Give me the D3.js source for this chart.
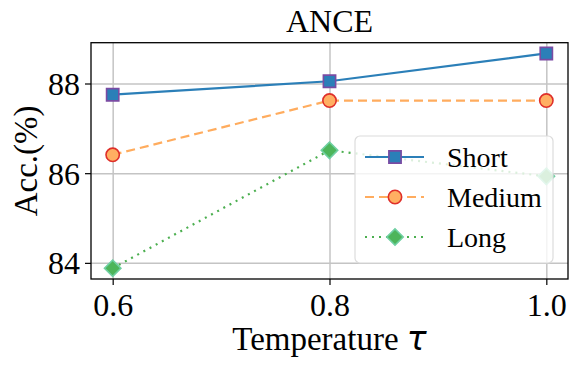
<!DOCTYPE html>
<html>
<head>
<meta charset="utf-8">
<script src="https://cdn.jsdelivr.net/npm/d3@7"></script>
<style>
	body { margin: 0; background: #fff; }
	svg { display: block; }
</style>
</head>
<body>
<main></main>
<script>
const temps = [0.6, 0.8, 1.0]
const seriesNames = ['Short', 'Medium', 'Long']
const shortAcc = [87.75, 88.05, 88.67]
const mediumAcc = [86.41, 87.62, 87.62]
const longAcc = [83.88, 86.51, 85.93]
const yTicks = [84, 86, 88]

const width = 579
const height = 368
const plotLeft = 91, plotRight = 568, plotTop = 42.7, plotBottom = 279
const serif = "'Liberation Serif', 'Times New Roman', serif"

const styles = {
	Short: { line: '#2b7fb8', fill: '#2b7fb8', edge: '#7a4ba3', dash: null, shape: d3.symbolSquare, size: 150, rot: 0 },
	Medium: { line: '#ffac5e', fill: '#ffaf62', edge: '#df2f2a', dash: '9,5', shape: d3.symbolCircle, size: 140, rot: 0 },
	Long: { line: '#4caf50', fill: '#4db55a', edge: '#6fcfa2', dash: '2,5', shape: d3.symbolSquare, size: 135, rot: 45 },
}
const series = [
	{ name: seriesNames[0], values: shortAcc },
	{ name: seriesNames[1], values: mediumAcc },
	{ name: seriesNames[2], values: longAcc },
]

const svg = d3.select('main')
	.append('svg')
	.attr('width', width)
	.attr('height', height)

const x = d3.scaleLinear().domain([0.58, 1.02]).range([plotLeft, plotRight])
const y = d3.scaleLinear().domain([83.64, 88.91]).range([plotBottom, plotTop])

// grid
svg.append('g')
	.attr('transform', `translate(0,${plotBottom})`)
	.call(d3.axisBottom(x).tickValues(temps).tickSize(-(plotBottom - plotTop)).tickFormat(''))
	.call(g => g.select('.domain').remove())
	.call(g => g.selectAll('line').attr('stroke', '#c4c4c4').attr('stroke-width', 1.5))

svg.append('g')
	.attr('transform', `translate(${plotLeft},0)`)
	.call(d3.axisLeft(y).tickValues(yTicks).tickSize(-(plotRight - plotLeft)).tickFormat(''))
	.call(g => g.select('.domain').remove())
	.call(g => g.selectAll('line').attr('stroke', '#c4c4c4').attr('stroke-width', 1.5))

// lines + markers
const line = d3.line().x((d, i) => x(temps[i])).y(d => y(d))
series.forEach(s => {
	const st = styles[s.name]
	svg.append('path')
		.datum(s.values)
		.attr('d', line)
		.attr('fill', 'none')
		.attr('stroke', st.line)
		.attr('stroke-width', 2.2)
		.attr('stroke-dasharray', st.dash)
	svg.append('g')
		.selectAll('path')
		.data(s.values)
		.enter()
		.append('path')
		.attr('d', d3.symbol().type(st.shape).size(st.size))
		.attr('transform', (d, i) => `translate(${x(temps[i])},${y(d)}) rotate(${st.rot})`)
		.attr('fill', st.fill)
		.attr('stroke', st.edge)
		.attr('stroke-width', 1.6)
})

// axes
const xAxis = svg.append('g')
	.attr('transform', `translate(0,${plotBottom})`)
	.call(d3.axisBottom(x).tickValues(temps).tickFormat(d3.format('.1f')).tickSize(6).tickPadding(6).tickSizeOuter(0))
const yAxis = svg.append('g')
	.attr('transform', `translate(${plotLeft},0)`)
	.call(d3.axisLeft(y).tickValues(yTicks).tickFormat(d3.format('d')).tickSize(6).tickPadding(5).tickSizeOuter(0))
;[xAxis, yAxis].forEach(g => {
	g.select('.domain').remove()
	g.attr('font-family', null)
	g.selectAll('line').attr('stroke', '#000').attr('stroke-width', 1.2)
	g.selectAll('text').attr('font-size', 32).attr('fill', '#000')
})
xAxis.selectAll('text').attr('dy', '0.78em')
yAxis.selectAll('text').attr('dy', '0.34em')

svg.append('rect')
	.attr('x', plotLeft).attr('y', plotTop)
	.attr('width', plotRight - plotLeft).attr('height', plotBottom - plotTop)
	.attr('fill', 'none').attr('stroke', '#000').attr('stroke-width', 1.3)

// legend
const legend = svg.append('g')
legend.append('rect')
	.attr('x', 355).attr('y', 136)
	.attr('width', 198).attr('height', 127)
	.attr('rx', 5)
	.attr('fill', 'rgba(255,255,255,0.8)')
	.attr('stroke', '#dcdcdc')
	.attr('stroke-width', 1.2)
series.forEach((s, i) => {
	const st = styles[s.name]
	const ry = 157 + i * 40
	legend.append('line')
		.attr('x1', 365).attr('x2', 424).attr('y1', ry).attr('y2', ry)
		.attr('stroke', st.line).attr('stroke-width', 2.2)
		.attr('stroke-dasharray', st.dash)
	legend.append('path')
		.attr('d', d3.symbol().type(st.shape).size(st.size))
		.attr('transform', `translate(395,${ry}) rotate(${st.rot})`)
		.attr('fill', st.fill).attr('stroke', st.edge).attr('stroke-width', 1.6)
	legend.append('text')
		.attr('x', 447).attr('y', ry + 10)
		.attr('font-size', 28)
		.text(s.name)
})

// titles
svg.append('text')
	.attr('x', (plotLeft + plotRight) / 2).attr('y', 32)
	.attr('text-anchor', 'middle')
	.attr('font-size', 32)
	.text('ANCE')

const xl = svg.append('text')
	.attr('x', (plotLeft + plotRight) / 2).attr('y', 350)
	.attr('text-anchor', 'middle')
	.attr('font-size', 33)
xl.append('tspan').text('Temperature ')
xl.append('tspan').attr('class', 'math').text('τ')

svg.append('text')
	.attr('transform', `translate(37,${(plotTop + plotBottom) / 2}) rotate(-90)`)
	.attr('text-anchor', 'middle')
	.attr('font-size', 33)
	.text('Acc.(%)')

svg.selectAll('text').style('font-family', serif)
svg.selectAll('tspan.math').style('font-family', "'DejaVu Sans'").style('font-style', 'italic')
</script>
</body>
</html>
